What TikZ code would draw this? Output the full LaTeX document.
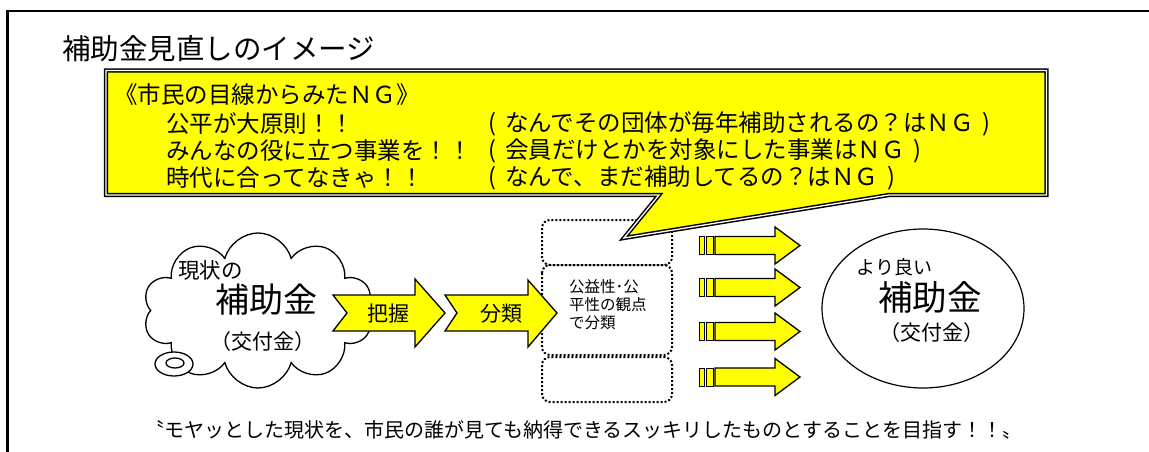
\documentclass[tikz,border=0pt]{standalone}
\usepackage{fontspec}
\setmainfont{Noto Sans CJK JP}
\usetikzlibrary{shapes.symbols,shapes.geometric}
\definecolor{yel}{RGB}{255,255,0}
\tikzset{
  fs/.style={font=\fontsize{#1}{#1}\selectfont},
  lbl/.style={inner sep=0pt, text=black},
  yshape/.style={fill=yel, draw=black, line width=1.3pt, line join=miter},
  ybar/.style={fill=yel, draw=black, line width=1pt},
  dotbox/.style={draw=black, line width=2pt, dash pattern=on 2pt off 2pt, rounded corners=8pt},
  callout/.style={fill=yel, draw=black, line width=1.5pt, double=white, double distance=1.3pt, line join=miter},
  outline/.style={draw=black, line width=1.3pt, fill=white},
}
\begin{document}
\begin{tikzpicture}[x=1pt,y=-1pt]
\useasboundingbox (0,0) rectangle (1149,452);
\clip (0,0) rectangle (1149,452);
\fill[white] (0,0) rectangle (1149,452);
% frame
\draw[line width=2.5pt] (7.5,11) rectangle (1200,500);
% title
\node[lbl, fs=28.5, anchor=west] (title) at (62,49) {補助金見直しのイメージ};

% cloud (current subsidies)
\node[cloud, cloud puffs=10, cloud ignores aspect, outline, minimum width=230pt, minimum height=155pt, inner sep=0pt] (cloud) at (258,310.5) {};
\node[ellipse, outline, minimum width=38pt, minimum height=24pt, inner sep=0pt] (bub1) at (174,364) {};
\node[ellipse, outline, minimum width=18pt, minimum height=10pt, inner sep=0pt] (bub2) at (175,363) {};
\node[lbl, fs=21.5] (now) at (210.5,270) {現状の};
\node[lbl, fs=34] (hojo1) at (266,300) {補助金};
\node[lbl, fs=21] (kofu1) at (263,342) {（交付金）};

% dotted classification boxes
\draw[dotbox] (542,220) rectangle (672,265);
\draw[dotbox] (542,265) rectangle (672,355);
\draw[dotbox] (542,357) rectangle (672,402);
\node[lbl, fs=15.5, anchor=north west, align=left] (crit) at (569,279) {公益性･公\\[2.5pt]平性の観点\\[2.5pt]で分類};

% chevron arrows
\draw[yshape] (333,295) -- (415,295) -- (415,279) -- (445,313) -- (415,347) -- (415,331) -- (333,331) -- (347,313) -- cycle;
\node[lbl, fs=21] (haaku) at (388,314) {把握};
\draw[yshape] (445,295) -- (528,295) -- (528,280) -- (557,313) -- (528,347) -- (528,331) -- (445,331) -- (457,313) -- cycle;
\node[lbl, fs=21] (bunrui) at (501,314) {分類};

% four output arrows
\foreach \c in {245.5,287.5,331.5,377}{
  \draw[ybar] (699,\c-9) rectangle (704,\c+9);
  \draw[ybar] (706,\c-9) rectangle (713,\c+9);
  \draw[yshape] (715,\c-9) -- (775,\c-9) -- (775,\c-18.5) -- (800,\c) -- (775,\c+18.5) -- (775,\c+9) -- (715,\c+9) -- cycle;
}

% goal ellipse
\node[ellipse, draw=black, line width=1.2pt, fill=white, minimum width=202pt, minimum height=159pt, inner sep=0pt] (goal) at (923,308.5) {};
\node[lbl, fs=19] (better) at (894.5,267) {より良い};
\node[lbl, fs=34.5] (hojo2) at (930,297) {補助金};
\node[lbl, fs=21] (kofu2) at (932,333) {（交付金）};

% callout
\draw[callout] (106,70.5) -- (1046.5,70.5) -- (1046.5,195) -- (889,195) -- (624,238) -- (659,195) -- (106,195) -- cycle;
\node[lbl, fs=23.5, anchor=west] (ng0) at (114,95) {《市民の目線からみたＮＧ》};
\node[lbl, fs=23.5, anchor=west] (ng1a) at (166,124) {公平が大原則！！};
\node[lbl, fs=23.5, anchor=west] (ng1b) at (488,124) {(\hspace{9pt}なんでその団体が毎年補助されるの？はＮＧ\hspace{9pt})};
\node[lbl, fs=23.5, anchor=west] (ng2a) at (166,151) {みんなの役に立つ事業を！！};
\node[lbl, fs=23.5, anchor=west] (ng2b) at (488,151) {(\hspace{9pt}会員だけとかを対象にした事業はＮＧ\hspace{9pt})};
\node[lbl, fs=23.5, anchor=west] (ng3a) at (166,178) {時代に合ってなきゃ！！};
\node[lbl, fs=23.5, anchor=west] (ng3b) at (488,178) {(\hspace{9pt}なんで、まだ補助してるの？はＮＧ\hspace{9pt})};

% motto
\node[lbl, fs=20] (motto) at (583,430) {〝モヤッとした現状を、市民の誰が見ても納得できるスッキリしたものとすることを目指す！！〟};
\end{tikzpicture}
\end{document}
